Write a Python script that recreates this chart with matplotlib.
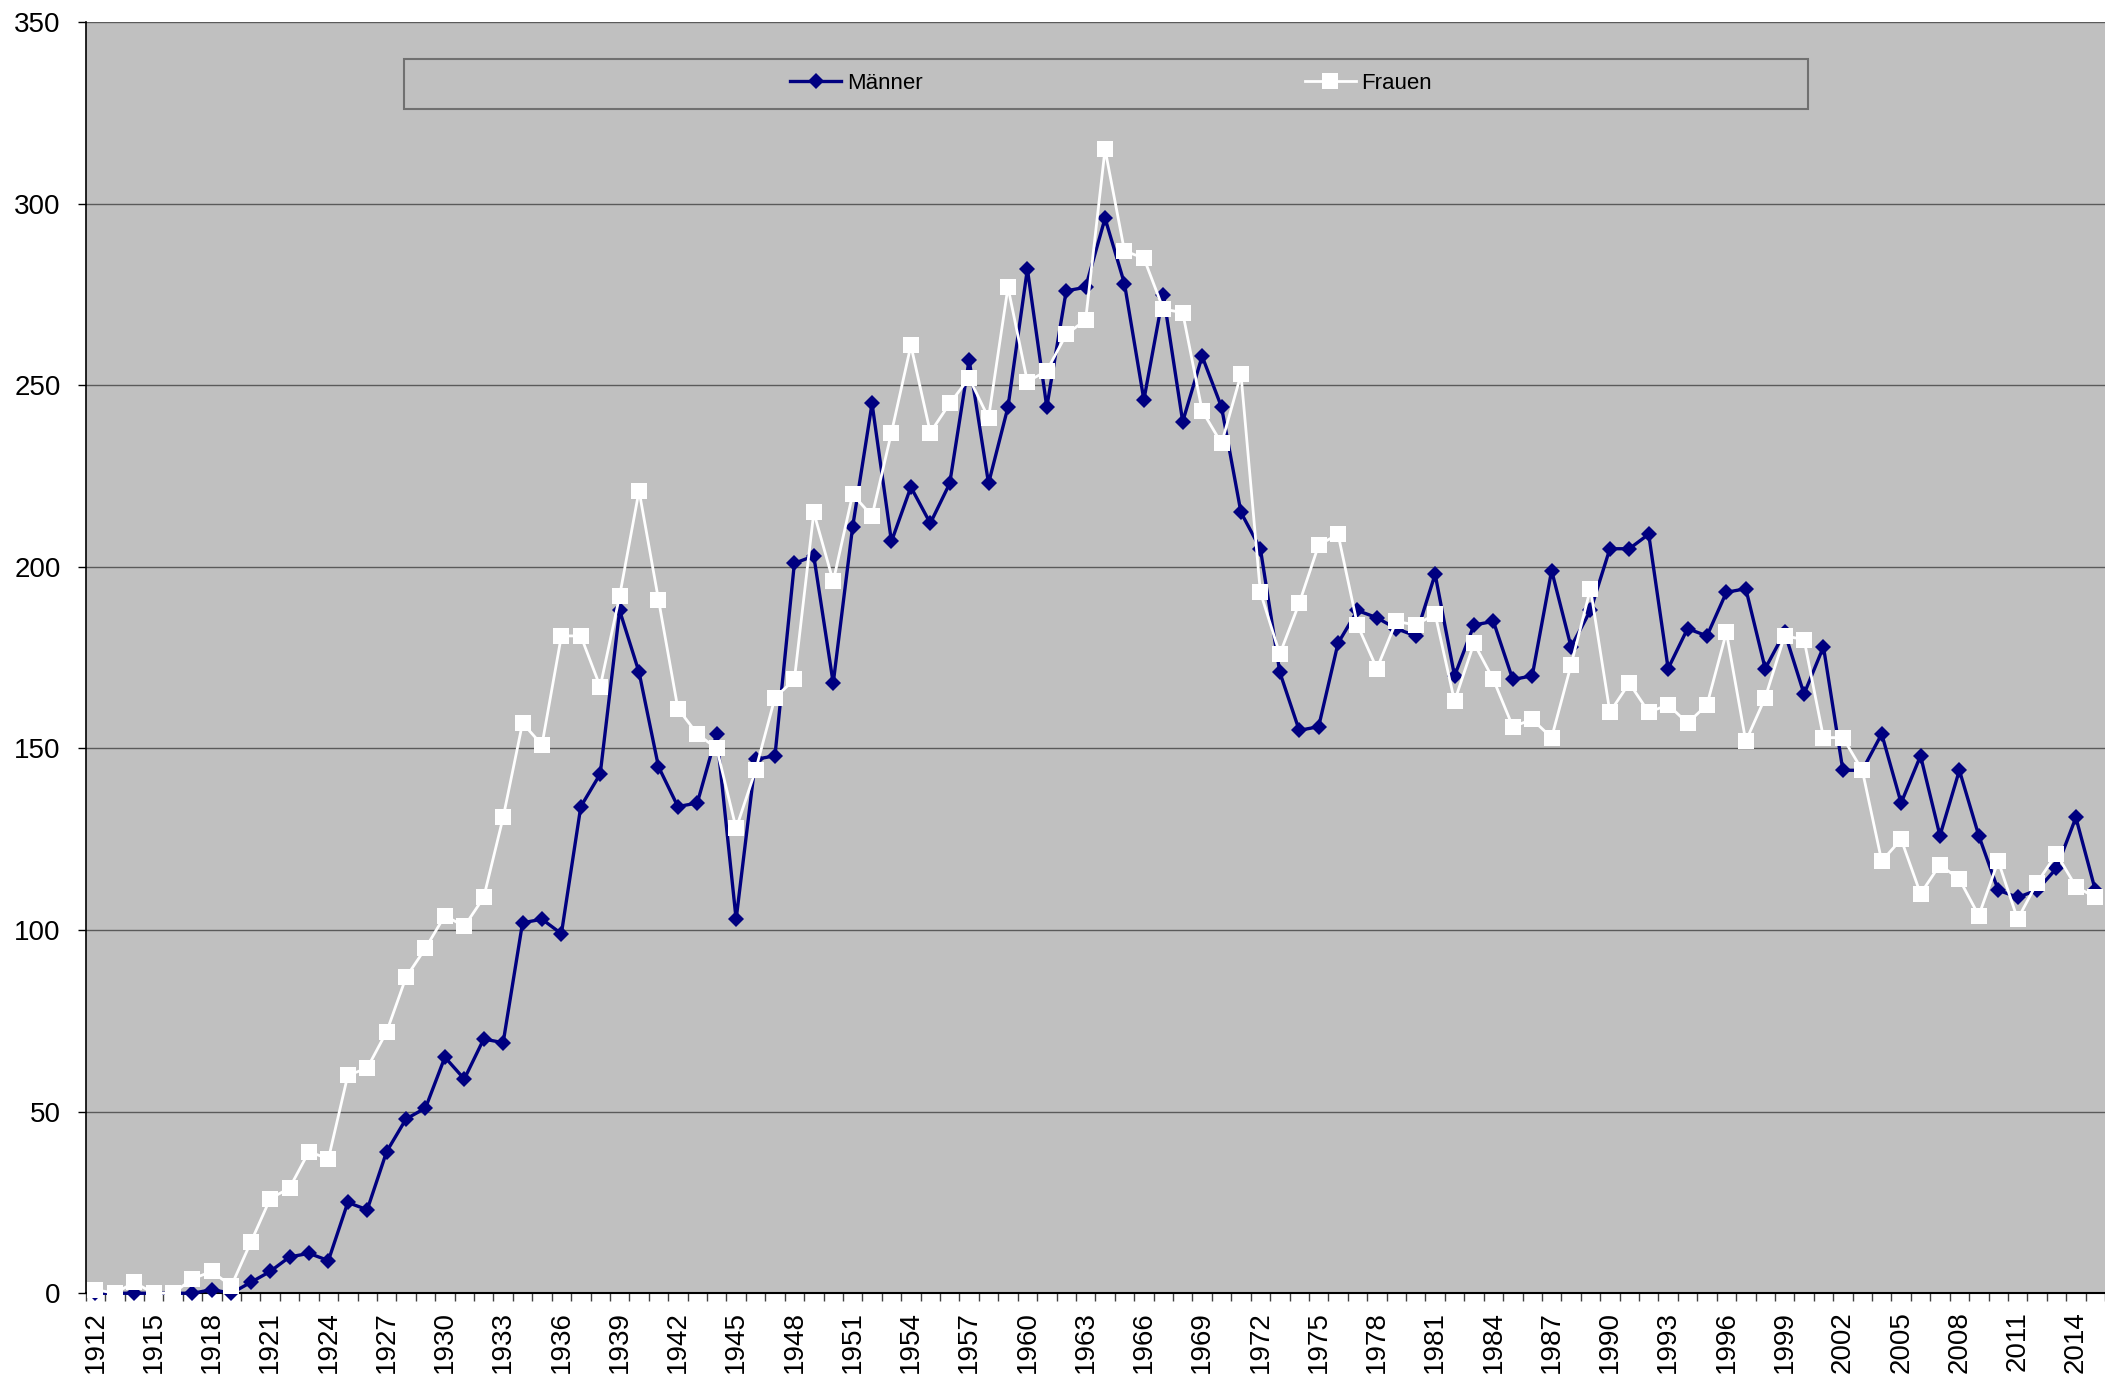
import matplotlib
matplotlib.use("Agg")
import matplotlib.pyplot as plt
from matplotlib.patches import Rectangle

plt.rcParams['font.family'] = ['Liberation Sans', 'DejaVu Sans']

years = list(range(1912, 2016))

# Männer, 1912..2015
maenner = [0, 0, 0, 0, 0, 0, 1, 0,
           3, 6, 10, 11, 9, 25, 23, 39, 48, 51,
           65, 59, 70, 69, 102, 103, 99, 134, 143, 188,
           171, 145, 134, 135, 154, 103, 147, 148, 201, 203,
           168, 211, 245, 207, 222, 212, 223, 257, 223, 244,
           282, 244, 276, 277, 296, 278, 246, 275, 240, 258,
           244, 215, 205, 171, 155, 156, 179, 188, 186, 183,
           181, 198, 170, 184, 185, 169, 170, 199, 178, 188,
           205, 205, 209, 172, 183, 181, 193, 194, 172, 182,
           165, 178, 144, 144, 154, 135, 148, 126, 144, 126,
           111, 109, 111, 117, 131, 111]

# Frauen, 1912..2015
frauen = [1, 0, 3, 0, 0, 4, 6, 2,
          14, 26, 29, 39, 37, 60, 62, 72, 87, 95,
          104, 101, 109, 131, 157, 151, 181, 181, 167, 192,
          221, 191, 161, 154, 150, 128, 144, 164, 169, 215,
          196, 220, 214, 237, 261, 237, 245, 252, 241, 277,
          251, 254, 264, 268, 315, 287, 285, 271, 270, 243,
          234, 253, 193, 176, 190, 206, 209, 184, 172, 185,
          184, 187, 163, 179, 169, 156, 158, 153, 173, 194,
          160, 168, 160, 162, 157, 162, 182, 152, 164, 181,
          180, 153, 153, 144, 119, 125, 110, 118, 114, 104,
          119, 103, 113, 121, 112, 109]

yticks = [0, 50, 100, 150, 200, 250, 300, 350]

fig = plt.figure(figsize=(21.05, 13.82), dpi=100)
ax = fig.add_axes([0.0407, 0.0642, 0.9593, 0.9198])
ax.set_facecolor('#c0c0c0')

x = list(range(len(years)))
ax.plot(x, maenner, color='#000080', lw=2.4, marker='D', markersize=8,
        markeredgewidth=0, label='Männer', clip_on=False, zorder=3)
ax.plot(x, frauen, color='white', lw=2.0, marker='s', markersize=11,
        markeredgewidth=0, label='Frauen', clip_on=False, zorder=4)

ax.set_xlim(-0.5, len(years) - 0.5)
ax.set_ylim(0, 350)
ax.set_yticks(yticks)
ax.yaxis.grid(True, color='#5a5a5a', lw=1.0)
ax.set_axisbelow(True)

# labels every 3 years, tick marks between categories
ax.set_xticks(x[::3])
ax.set_xticklabels([str(y) for y in years[::3]], rotation=90)
ax.set_xticks([i - 0.5 for i in range(len(years) + 1)], minor=True)
ax.tick_params(axis='x', which='major', length=0, pad=13, labelsize=20)
ax.tick_params(axis='x', which='minor', length=6, width=1, color='#404040')
ax.tick_params(axis='y', length=6, width=1, pad=12, labelsize=20)

for s in ['top', 'right']:
    ax.spines[s].set_visible(False)
ax.spines['left'].set_linewidth(1.2)
ax.spines['bottom'].set_linewidth(1.5)

# legend box
fig.patches.append(Rectangle((0.1919, 0.9211), 0.667, 0.0362, transform=fig.transFigure,
                             facecolor='#c0c0c0', edgecolor='#707070', lw=1.5, zorder=5))
leg = fig.legend(loc='center', bbox_to_anchor=(0.5278, 0.9398), ncol=2, frameon=False,
                 fontsize=16, handlelength=2.3, handletextpad=0.25, columnspacing=17.2,
                 borderpad=0)
leg.set_zorder(6)

fig.savefig('out.png', dpi=100)
